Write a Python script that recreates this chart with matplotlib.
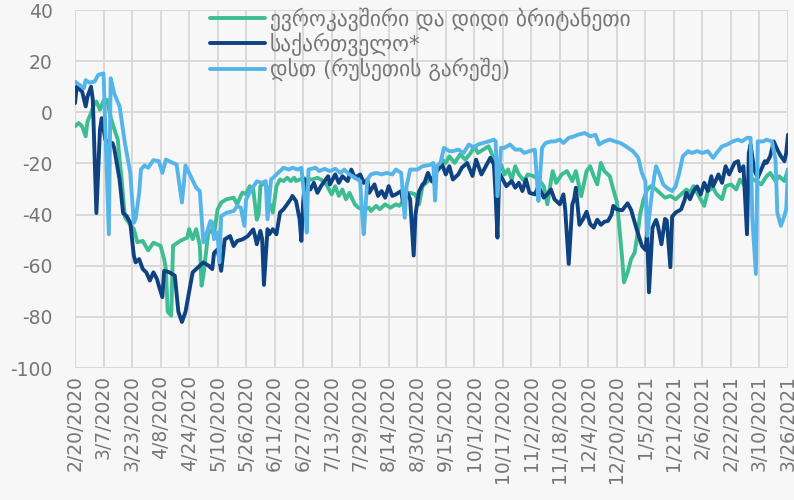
import matplotlib
matplotlib.use('Agg')
import matplotlib.pyplot as plt

plt.rcParams['axes.unicode_minus'] = False

# ---- data (day offset from 2/20/2020, value) ----
tick_labels = ['2/20/2020', '3/7/2020', '3/23/2020', '4/8/2020', '4/24/2020', '5/10/2020',
               '5/26/2020', '6/11/2020', '6/27/2020', '7/13/2020', '7/29/2020', '8/14/2020',
               '8/30/2020', '9/15/2020', '10/1/2020', '10/17/2020', '11/2/2020', '11/18/2020',
               '12/4/2020', '12/20/2020', '1/5/2021', '1/21/2021', '2/6/2021', '2/22/2021',
               '3/10/2021', '3/26/2021']
tick_days = [16 * i for i in range(len(tick_labels))]

series_names = ['ევროკავშირი და დიდი ბრიტანეთი', 'საქართველო*', 'დსთ (რუსეთის გარეშე)']

eu_days = [0, 2, 4, 6, 7, 9, 11, 12, 14, 16, 18, 20, 22, 24, 25, 26, 28, 30, 33, 35, 38, 41, 44, 48,
           50, 51, 52, 54, 55, 59, 63, 64, 66, 68, 70, 71, 72, 75, 78, 80, 82, 85, 89, 91, 93, 94,
           96, 98, 100, 102, 103, 104, 106, 108, 109, 111, 113, 115, 117, 119, 121, 123, 124, 126,
           128, 130, 133, 136, 138, 141, 144, 146, 148, 150, 152, 154, 157, 159, 162, 165, 166,
           169, 171, 174, 177, 180, 182, 185, 188, 191, 193, 195, 198, 199, 201, 203, 206, 208,
           210, 213, 216, 219, 222, 224, 226, 229, 232, 234, 236, 239, 241, 243, 245, 247, 249,
           252, 254, 257, 260, 263, 265, 267, 268, 270, 273, 276, 279, 281, 284, 287, 289, 291,
           293, 295, 297, 300, 302, 304, 305, 307, 308, 310, 312, 314, 316, 317, 319, 321, 323,
           326, 329, 331, 334, 337, 340, 343, 345, 347, 350, 353, 355, 358, 360, 363, 365, 368,
           371, 373, 376, 379, 382, 385, 388, 390, 393, 395, 398, 400]
eu_vals = [-5.5, -4.2, -5.5, -9.4, -3.6, -0.3, 3.6, 4.2, 1, 4.5, 4.9, -2, -6.5, -10.7, -18.5, -25,
           -41, -43, -45.7, -50.8, -50.3, -54, -51, -52.2, -57.4, -61.3, -78, -79.5, -52.2, -50.3,
           -49, -45.7, -49.6, -45.7, -52, -67.8, -64, -45.7, -47.7, -38, -35.3, -34, -33.4, -36,
           -32.7, -31.4, -32, -28.9, -30.2, -42, -40, -28.9, -27.6, -29.5, -35.3, -39.2, -28.9,
           -26.3, -26.9, -25.6, -26.9, -25.6, -26.9, -26.3, -25.6, -26.3, -26.3, -25.6, -26.3,
           -28.2, -32.1, -28.9, -32.7, -30.2, -34, -31.5, -36, -37.3, -37.9, -37.3, -38.6, -36.6,
           -37.9, -36, -37.3, -36, -36.6, -34, -31.5, -32.1, -36, -28.9, -26.9, -25.6, -27.6,
           -22.4, -18.5, -19.8, -17.2, -19.8, -16.5, -18.5, -15.9, -13.3, -15.9, -14.6, -13.3,
           -16.5, -19.8, -20.4, -24.3, -22.4, -26.3, -21.1, -24.3, -26.9, -24.3, -24.9, -26.3,
           -28.9, -36, -26.9, -23, -27.6, -24.3, -23, -26.9, -23, -32.8, -23, -21.1, -24.9, -28.2,
           -19.8, -23, -25, -30.2, -35, -42, -57.4, -66.5, -62.6, -57.4, -54.8, -45.7, -40, -34,
           -30.2, -28.9, -30.2, -32.1, -33.4, -32.7, -34, -32.1, -30.2, -31.4, -28.9, -32.7,
           -36.6, -30.8, -29.5, -32.1, -34, -28.9, -28.2, -30.2, -26.3, -28.9, -25.6, -26.9,
           -28.2, -25, -23.7, -26.9, -25, -26.9, -22.4]

geo_days = [0, 1, 4, 6, 7, 9, 10, 12, 14, 15, 17, 19, 21, 22, 25, 27, 29, 31, 33, 34, 36, 38, 40,
            42, 44, 46, 47, 49, 50, 53, 56, 58, 60, 62, 63, 66, 68, 70, 72, 75, 77, 78, 80, 82,
            84, 87, 89, 91, 94, 97, 100, 101, 102, 104, 105, 106, 108, 109, 111, 113, 115, 117,
            119, 121, 122, 124, 126, 127, 128, 129, 132, 134, 136, 138, 140, 142, 143, 146, 148,
            150, 153, 155, 157, 160, 162, 164, 165, 168, 170, 172, 174, 176, 178, 180, 183, 184,
            186, 188, 189, 190, 191, 193, 195, 196, 198, 200, 203, 206, 208, 210, 212, 215, 217,
            220, 223, 225, 228, 230, 233, 235, 236, 237, 238, 240, 242, 245, 247, 249, 251, 253,
            255, 258, 260, 263, 265, 267, 269, 272, 274, 275, 277, 279, 280, 281, 283, 285, 287,
            289, 291, 293, 295, 297, 299, 301, 302, 304, 307, 310, 312, 315, 318, 320, 321, 322,
            324, 326, 327, 329, 331, 332, 334, 335, 337, 340, 342, 343, 345, 347, 349, 351, 353,
            355, 357, 358, 361, 363, 365, 367, 370, 372, 373, 375, 377, 378, 379, 381, 383, 385,
            387, 388, 390, 392, 394, 396, 398, 399, 400]
geo_vals = [3.6, 10, 8.1, 2.3, 6.1, 10, 4.9, -39.4, -6.8, -2.3, -10.7, -12, -12, -14, -26.3,
            -39.4, -40.6, -43.2, -56, -58.7, -57.4, -61.3, -62.6, -65.8, -62.6, -65.2, -67.8,
            -72.3, -62, -62.6, -63.9, -78, -82, -78, -74.2, -62.6, -61.3, -60, -58.7, -60, -61.3,
            -55, -53.6, -62, -49.7, -48.4, -52.3, -50.3, -49.7, -48.4, -45.8, -48.4, -51.6, -46.4,
            -49.6, -67.5, -45.7, -47.7, -45.7, -47.7, -39.2, -37.9, -36, -34, -32.7, -34.7, -41.8,
            -50.3, -35.3, -26.3, -30.2, -27.6, -31.5, -28.9, -26.9, -25, -28.2, -24.3, -27.6, -25,
            -26.9, -22.4, -25.6, -24.3, -27.6, -26.3, -31.5, -28.2, -32.7, -30.8, -33.4, -28.9,
            -32.7, -32.1, -30.8, -35.3, -31, -34, -45, -56, -40, -31, -28.2, -27.6, -23.7, -26.9,
            -23, -20.4, -24.3, -21.1, -26.3, -24.3, -21.7, -19.8, -24.9, -18.5, -24.3, -21.7,
            -17.8, -20.4, -32.8, -49, -23.7, -26.3, -28.9, -26.9, -29.5, -27.6, -30.8, -26.3,
            -31.5, -32.1, -28.9, -33.4, -32, -30.2, -34, -36, -32.1, -37.9, -59.3, -36, -34,
            -29.5, -44, -41.8, -38.9, -43.7, -45.1, -42, -44, -42.8, -42.5, -40, -36.6, -38,
            -38.3, -35.6, -38.2, -45.5, -52.2, -53.8, -47, -70.4, -45, -42.1, -44.4, -51.6, -41.7,
            -42.3, -60.6, -40.8, -39.2, -38, -34.3, -31.5, -34, -30.8, -29, -32.1, -27.6, -30.8,
            -25, -28.9, -24.3, -27.6, -21.1, -24.3, -19.8, -19.1, -23, -21.1, -47.7, -15.9, -12.6,
            -22.4, -25.6, -22.4, -19.1, -19.8, -17.2, -11.4, -14.6, -17.2, -19.1, -15.9, -8.8]

cis_days = [0, 5, 6, 8, 11, 13, 16, 17, 19, 20, 22, 25, 28, 31, 33, 34, 36, 37, 39, 41, 44, 47,
            49, 51, 54, 57, 60, 62, 64, 68, 70, 72, 74, 76, 77, 78, 80, 81, 82, 85, 89, 91, 93,
            95, 96, 99, 102, 105, 107, 108, 110, 112, 115, 117, 120, 122, 125, 127, 129, 130, 131,
            135, 137, 140, 143, 146, 149, 151, 154, 157, 160, 161, 162, 164, 166, 169, 172, 175,
            178, 180, 183, 185, 186, 188, 192, 195, 199, 201, 202, 203, 205, 207, 210, 212, 215,
            218, 221, 224, 226, 229, 232, 235, 236, 237, 239, 241, 244, 247, 250, 252, 255, 258,
            259, 260, 262, 264, 267, 269, 272, 274, 277, 280, 282, 286, 289, 292, 294, 297, 300,
            303, 306, 309, 313, 316, 318, 320, 321, 323, 325, 326, 328, 330, 332, 335, 337, 339,
            341, 344, 346, 349, 352, 355, 358, 360, 363, 366, 369, 372, 374, 377, 379, 380, 382,
            383, 386, 388, 391, 393, 394, 396, 398, 399, 400]
cis_vals = [12, 9.4, 12.6, 11.6, 12, 14.6, 15.2, -5.5, -47.7, 13.3, 7.4, 2.3, -12, -23.7, -43.2,
            -41.8, -31.5, -22.4, -20.8, -21.7, -18.7, -19.1, -23.7, -18.5, -19.5, -20.4, -35.3,
            -20.8, -23.7, -29.5, -30.8, -50.9, -47, -42.5, -43.1, -49.6, -47, -58.7, -40.6, -39.3,
            -38.6, -36.7, -37.3, -44.4, -34, -30.2, -27, -27.6, -26.9, -41.8, -26.3, -25, -23,
            -21.7, -22.4, -21.7, -22.4, -21.7, -35.3, -47, -22.4, -21.7, -23, -22.1, -23, -22.1,
            -23.7, -22.4, -24.3, -25.6, -26.9, -39.2, -47.7, -26.3, -24.3, -23.7, -24.3, -23.7,
            -24.3, -22.4, -23.7, -41.2, -28.9, -22.4, -22.4, -21.1, -20.6, -19.8, -34.5, -21,
            -19.8, -13.9, -15.2, -15.2, -14.6, -15.9, -12.6, -13.9, -12.6, -12, -11.4, -10.7,
            -11.4, -32.8, -13.9, -13.9, -12.6, -14.6, -14.6, -15.9, -15.2, -14.6, -25, -34.7,
            -13.9, -12, -11.4, -11.4, -10.7, -12, -10, -9.4, -8.8, -8.1, -9.4, -8.8, -12.6, -11.4,
            -10.7, -11.4, -12, -13.3, -15.2, -17.8, -23.7, -26.9, -48.3, -35.3, -25, -21.1, -24.3,
            -28.2, -29.5, -30.8, -28.9, -23.7, -17.2, -15.2, -15.9, -15.2, -15.9, -15.2, -17.8,
            -15.9, -13.3, -12.6, -11.4, -10.7, -11.4, -10, -10, -41.8, -63.2, -11.4, -11.4,
            -10.7, -11.4, -18.5, -39.2, -44.4, -40.5, -37.9, -22.4]

colors = ['#3dbd94', '#0e4281', '#56b5e8']
bg = '#f7f7f7'
txt = '#767676'

fig = plt.figure(figsize=(7.94, 5.0), dpi=100, facecolor=bg)
ax = fig.add_axes([75 / 794, 1 - 368 / 500, (788 - 75) / 794, (368 - 10) / 500])
ax.set_facecolor(bg)
ax.set_axisbelow(True)

for d, v, c, n in zip([eu_days, geo_days, cis_days], [eu_vals, geo_vals, cis_vals], colors, series_names):
    ax.plot(d, v, color=c, lw=2.8, label=n, solid_joinstyle='round', solid_capstyle='round')

ax.set_xlim(0, 400)
ax.set_ylim(-100, 40)
ax.set_yticks(range(-100, 41, 20))
ax.set_xticks(tick_days)
ax.set_xticklabels(tick_labels, rotation=90)
ax.grid(True, color='#d9d9d9', lw=1.4)
for s in ax.spines.values():
    s.set_visible(False)
ax.tick_params(length=0, colors=txt, labelsize=13.5)
ax.tick_params(axis='y', pad=16)
ax.tick_params(axis='x', pad=5)

leg = ax.legend(loc='upper left', bbox_to_anchor=(210 / 794, 1 - 7 / 500),
                bbox_transform=fig.transFigure, frameon=False, fontsize=15.5,
                handlelength=2.56, handletextpad=0.23, labelspacing=0.08, borderpad=0,
                borderaxespad=0)
for t in leg.get_texts():
    t.set_color(txt)

fig.savefig('out.png', dpi=100, facecolor=bg)
